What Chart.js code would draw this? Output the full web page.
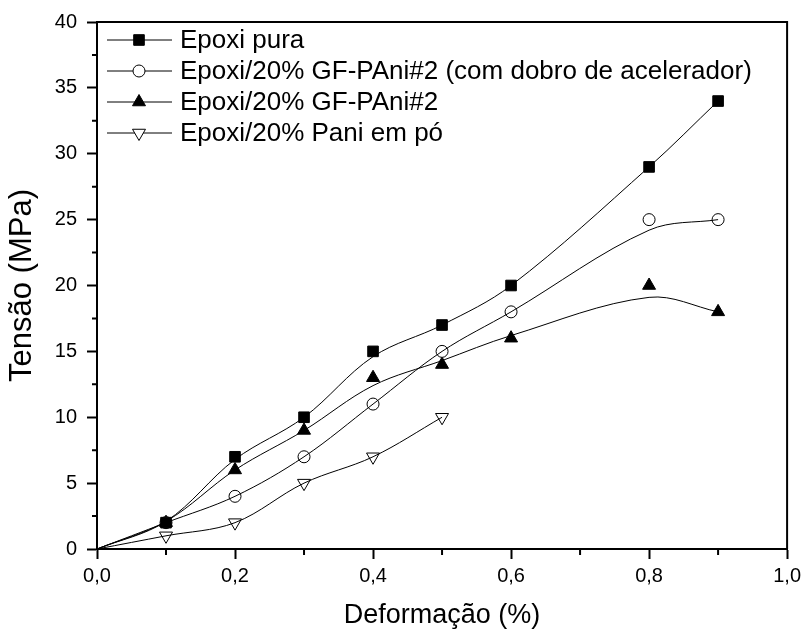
<!DOCTYPE html>
<html lang="pt-BR">
<head>
<meta charset="UTF-8">
<title>Tensão x Deformação</title>
<script src="https://cdn.jsdelivr.net/npm/chart.js"></script>
<style>
  body { margin: 0; background: #fff; }
  .chart-box { width: 806px; height: 634px; }
</style>
</head>
<body>
<div class="chart-box"><canvas id="grafico"></canvas></div>
<script>
// pontos medidos (o ponto 0,0 fica escondido sob os eixos)
const deformacao = [0, 0.1, 0.2, 0.3, 0.4, 0.5, 0.6, 0.8, 0.9];
const deformacaoPani = [0, 0.1, 0.2, 0.3, 0.4, 0.5];
const epoxiPura = [0, 2, 7, 10, 15, 17, 20, 29, 34];
const gfPaniDobro = [0, 2, 4, 7, 11, 15, 18, 25, 25];
const gfPani = [0, 2, 6, 9, 13, 14, 16, 20, 18];
const paniPo = [0, 1, 2, 5, 7, 10];

// curvas de ajuste (não passam exatamente pelos pontos)
const curvaEpoxiPura = [0, 2.1, 6.8, 10, 14.6, 17, 20, 29, 34];
const curvaGfPaniDobro = [0, 2, 4, 7, 11, 15, 18, 24.2, 25];
const curvaGfPani = [0, 2.1, 6, 9, 12.4, 14.3, 16.2, 19.1, 18];
const curvaPaniPo = [0, 1, 2, 5, 7, 10];

const nomes = [
  'Epoxi pura',
  'Epoxi/20% GF-PAni#2 (com dobro de acelerador)',
  'Epoxi/20% GF-PAni#2',
  'Epoxi/20% Pani em pó'
];

const ticksX = [0, 0.2, 0.4, 0.6, 0.8, 1.0];
const ticksY = [0, 5, 10, 15, 20, 25, 30, 35, 40];
const menoresX = [0.1, 0.3, 0.5, 0.7, 0.9];
const menoresY = [2.5, 7.5, 12.5, 17.5, 22.5, 27.5, 32.5, 37.5];

function pares(xs, ys, inicio) {
  return ys.map((v, i) => ({ x: xs[i], y: v })).slice(inicio || 0);
}

Chart.defaults.font.family = '"Liberation Sans", Arial, sans-serif';
Chart.defaults.color = '#000';

const estilos = [
  { pointStyle: 'rect', radius: 7.5, rotation: 0, fill: '#000' },
  { pointStyle: 'circle', radius: 6, rotation: 0, fill: '#fff' },
  { pointStyle: 'triangle', radius: 7.5, rotation: 0, fill: '#000' },
  { pointStyle: 'triangle', radius: 7.5, rotation: 180, fill: '#fff' }
];

const curvas = [
  pares(deformacao, curvaEpoxiPura),
  pares(deformacao, curvaGfPaniDobro),
  pares(deformacao, curvaGfPani),
  pares(deformacaoPani, curvaPaniPo)
];
const pontos = [
  pares(deformacao, epoxiPura, 1),
  pares(deformacao, gfPaniDobro, 1),
  pares(deformacao, gfPani, 1),
  pares(deformacaoPani, paniPo, 1)
];

const datasets = [];
curvas.forEach((c) => {
  datasets.push({
    data: c,
    showLine: true,
    borderColor: '#000',
    borderWidth: 1,
    pointRadius: 0,
    tension: 0.35,
    fill: false
  });
});
pontos.forEach((p, i) => {
  datasets.push({
    label: nomes[i],
    data: p,
    showLine: false,
    pointStyle: estilos[i].pointStyle,
    pointRadius: estilos[i].radius,
    pointRotation: estilos[i].rotation,
    pointBackgroundColor: estilos[i].fill,
    pointBorderColor: '#000',
    pointBorderWidth: 1,
    clip: false
  });
});

// moldura, ticks menores e legenda
const extras = {
  id: 'extras',
  afterDraw(chart) {
    const { ctx, chartArea: a, scales } = chart;
    ctx.save();
    ctx.strokeStyle = '#000';
    ctx.lineWidth = 2;
    ctx.beginPath();
    ctx.moveTo(a.left, a.top);
    ctx.lineTo(a.right, a.top);
    ctx.lineTo(a.right, a.bottom);
    ctx.stroke();

    ctx.beginPath();
    menoresX.forEach(v => {
      const px = scales.x.getPixelForValue(v);
      ctx.moveTo(px, a.bottom);
      ctx.lineTo(px, a.bottom + 6);
    });
    menoresY.forEach(v => {
      const py = scales.y.getPixelForValue(v);
      ctx.moveTo(a.left, py);
      ctx.lineTo(a.left - 5, py);
    });
    ctx.stroke();

    // legenda
    ctx.font = '26px "Liberation Sans", Arial, sans-serif';
    ctx.textBaseline = 'middle';
    ctx.textAlign = 'left';
    nomes.forEach((nome, i) => {
      const yy = a.top + 18 + i * 31;
      ctx.lineWidth = 1;
      ctx.strokeStyle = '#000';
      ctx.beginPath();
      ctx.moveTo(a.left + 10, yy);
      ctx.lineTo(a.left + 75, yy);
      ctx.stroke();
      ctx.fillStyle = estilos[i].fill;
      Chart.helpers.drawPoint(ctx, {
        pointStyle: estilos[i].pointStyle,
        radius: estilos[i].radius,
        rotation: estilos[i].rotation,
        borderWidth: 1
      }, a.left + 42, yy);
      ctx.fillStyle = '#000';
      ctx.fillText(nome, a.left + 83, yy + 1);
    });
    ctx.restore();
  }
};

new Chart(document.getElementById('grafico'), {
  type: 'scatter',
  data: { datasets: datasets },
  options: {
    responsive: true,
    maintainAspectRatio: false,
    animation: false,
    layout: { padding: { top: 17, right: 18, left: 0, bottom: 0 } },
    plugins: { legend: { display: false }, tooltip: { enabled: false } },
    scales: {
      x: {
        type: 'linear',
        min: 0,
        max: 1,
        afterFit(s) { s.height = 85; },
        afterBuildTicks(s) { s.ticks = ticksX.map(v => ({ value: v })); },
        ticks: {
          font: { size: 20 },
          padding: 5,
          callback: v => v.toFixed(1).replace('.', ',')
        },
        grid: { drawOnChartArea: false, tickLength: 10, tickColor: '#000', tickWidth: 2 },
        border: { color: '#000', width: 2 },
        title: { display: true, text: 'Deformação (%)', font: { size: 27 }, padding: { top: 0, bottom: 2 } }
      },
      y: {
        min: 0,
        max: 40,
        afterFit(s) { s.width = 97; },
        afterBuildTicks(s) { s.ticks = ticksY.map(v => ({ value: v })); },
        ticks: { font: { size: 20 }, padding: 10 },
        grid: { drawOnChartArea: false, tickLength: 10, tickColor: '#000', tickWidth: 2 },
        border: { color: '#000', width: 2 },
        title: { display: true, text: 'Tensão (MPa)', font: { size: 31 }, padding: { top: 4, bottom: 0 } }
      }
    }
  },
  plugins: [extras]
});
</script>
</body>
</html>
